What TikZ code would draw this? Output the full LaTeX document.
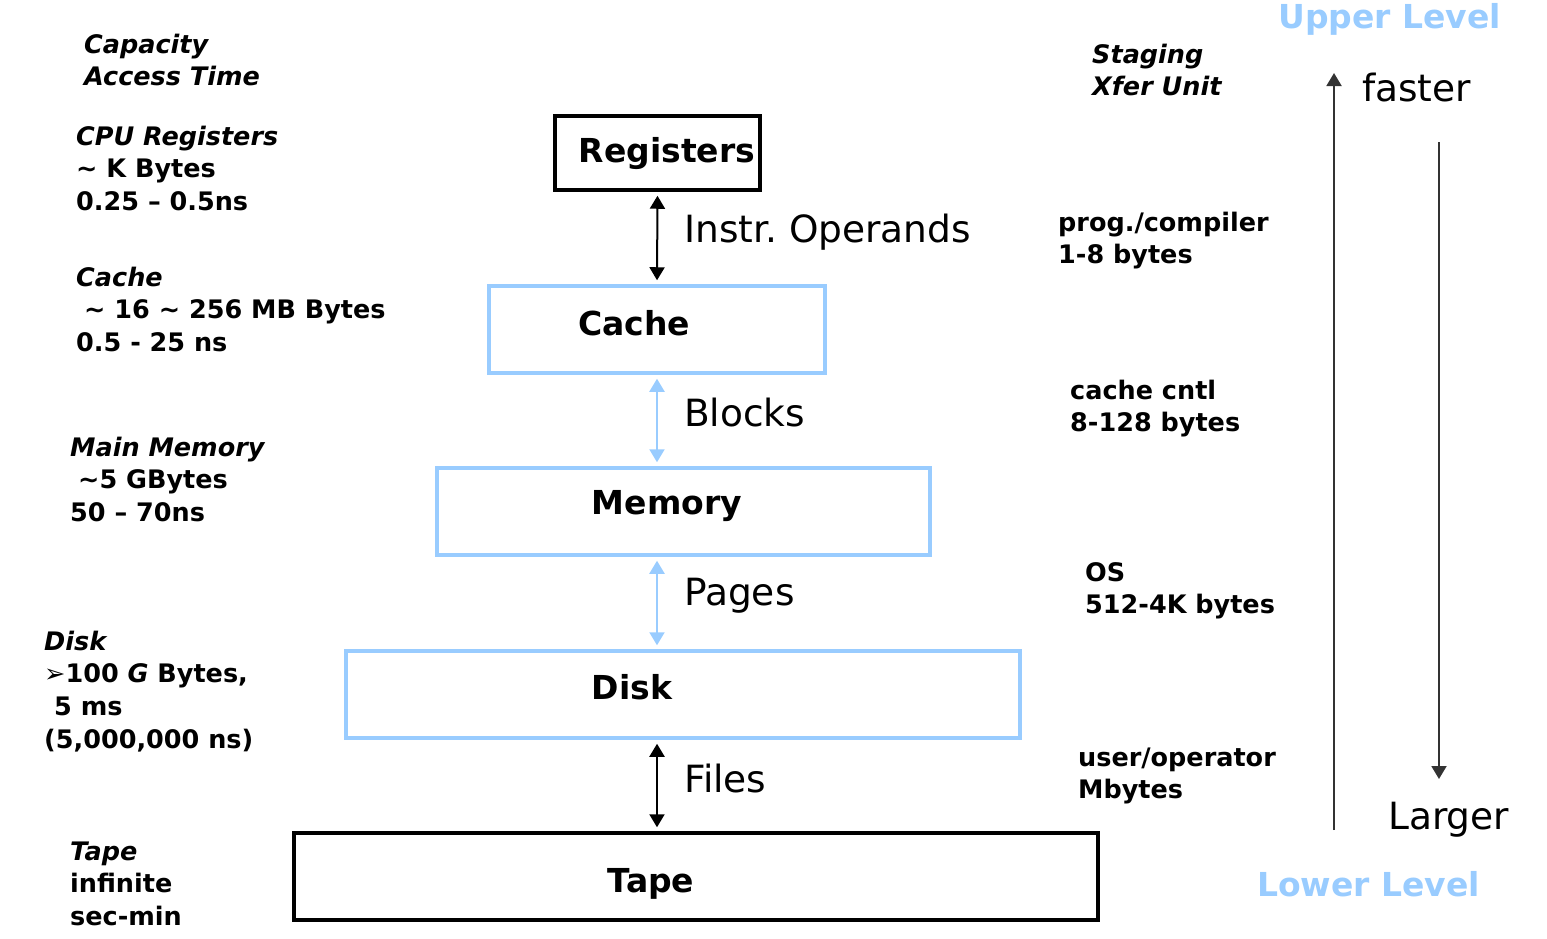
\documentclass[tikz,border=0pt]{standalone}
\usepackage{fontspec}
\setmainfont{DejaVu Sans}
\newfontfamily\symfont{DejaVu Sans}
\usetikzlibrary{arrows.meta}
\definecolor{lblue}{HTML}{99CCFF}
\definecolor{arrgray}{HTML}{333333}
\newcommand\tp{\rule{0pt}{30pt}}
\newcommand\tl{\textasciitilde}
\begin{document}
\begin{tikzpicture}[x=1pt,y=-1pt,
  tipa/.tip={Triangle[length=13pt,width=15pt]},
  boxk/.style={draw=black,line width=3.5pt,inner sep=0pt},
  boxb/.style={draw=lblue,line width=3.5pt,inner sep=0pt},
  boxtxt/.style={font=\bfseries\fontsize{33}{38}\selectfont,inner sep=0pt},
  lbl/.style={font=\bfseries\fontsize{25.5}{32.7}\selectfont,anchor=north west,inner sep=0pt,align=left},
  mid/.style={font=\fontsize{37.5}{40}\selectfont,anchor=west,inner sep=0pt},
  lvl/.style={font=\bfseries\fontsize{33}{40}\selectfont,text=lblue,anchor=west,inner sep=0pt},
  darr/.style={line width=2pt,arrows={tipa-tipa}},
  sarr/.style={line width=2pt,draw=arrgray,arrows={-tipa}}]
\useasboundingbox (0,0) rectangle (1547,938);

% boxes
\node[boxk,minimum width=205pt,minimum height=74pt] (reg) at (657.5,153) {};
\node[boxb,minimum width=336pt,minimum height=87pt] (cache) at (657,329.5) {};
\node[boxb,minimum width=493pt,minimum height=87pt] (mem) at (683.5,511.5) {};
\node[boxb,minimum width=674pt,minimum height=87pt] (disk) at (683,694.5) {};
\node[boxk,minimum width=804pt,minimum height=87pt] (tape) at (696,876.5) {};

\node[boxtxt] (regt) at (667,154) {Registers};
\node[boxtxt] (cachet) at (634,323) {Cache};
\node[boxtxt] (memt) at (667,506) {Memory};
\node[boxtxt] (diskt) at (632,687) {Disk};
\node[boxtxt] (tapet) at (651,884) {Tape};

% connectors
\draw[darr,shorten <=4pt,shorten >=4pt] (reg.south) -- (cache.north);
\draw[darr,lblue,shorten <=4pt,shorten >=4pt] (cache.south) -- (cache.south |- mem.north);
\draw[darr,lblue,shorten <=4pt,shorten >=4pt] (cache.south |- mem.south) -- (cache.south |- disk.north);
\draw[darr,shorten <=4pt,shorten >=4pt] (cache.south |- disk.south) -- (cache.south |- tape.north);

\node[mid] (l1) at (684,232) {Instr.\ Operands};
\node[mid] (l2) at (684,413) {Blocks};
\node[mid] (l3) at (684,596) {Pages};
\node[mid] (l4) at (684,779) {Files};

% left column
\node[lbl] (capa) at (84,53-30) {\tp\textit{Capacity}\\\textit{Access Time}};
\node[lbl] (cpu) at (76,145-30) {\tp\textit{CPU Registers}\\\tl{} K Bytes\\0.25 – 0.5ns};
\node[lbl] (cac) at (76,286-30) {\tp\textit{Cache}\\\hspace*{8pt}\tl{} 16 \tl{} 256 MB Bytes\\0.5 - 25 ns};
\node[lbl] (mm) at (70,456-30) {\tp\textit{Main Memory}\\\hspace*{8pt}\tl 5 GBytes\\50 – 70ns};
\node[lbl] (dk) at (44,650-30) {\tp\textit{Disk}\\{\symfont ➢}100 \textit{G} Bytes,\\\hspace*{10pt}5 ms\\(5,000,000 ns)};
\node[lbl] (tp) at (70,860-30) {\tp\textit{Tape}\\infinite\\sec-min};

% right column
\node[lbl] (stg) at (1092,63-30) {\tp\textit{Staging}\\\textit{Xfer Unit}};
\node[lbl] (pc) at (1058,231-30) {\tp prog./compiler\\1-8 bytes};
\node[lbl] (cc) at (1070,399-30) {\tp cache cntl\\8-128 bytes};
\node[lbl] (os) at (1085,581-30) {\tp OS\\512-4K bytes};
\node[lbl] (uo) at (1078,766-30) {\tp user/operator\\Mbytes};

\node[lvl] (upper) at (1278,19) {Upper Level};
\node[lvl] (lower) at (1257,884) {Lower Level};
\node[mid] (fast) at (1362,88) {faster};
\node[mid] (larg) at (1388,820) {Larger};

\coordinate (upB) at (1334,830);
\coordinate (upT) at (1334,73);
\coordinate (dnT) at (1439,142);
\coordinate (dnB) at (1439,779);
\draw[sarr] (upB) -- (upT);
\draw[sarr] (dnT) -- (dnB);
\end{tikzpicture}
\end{document}
